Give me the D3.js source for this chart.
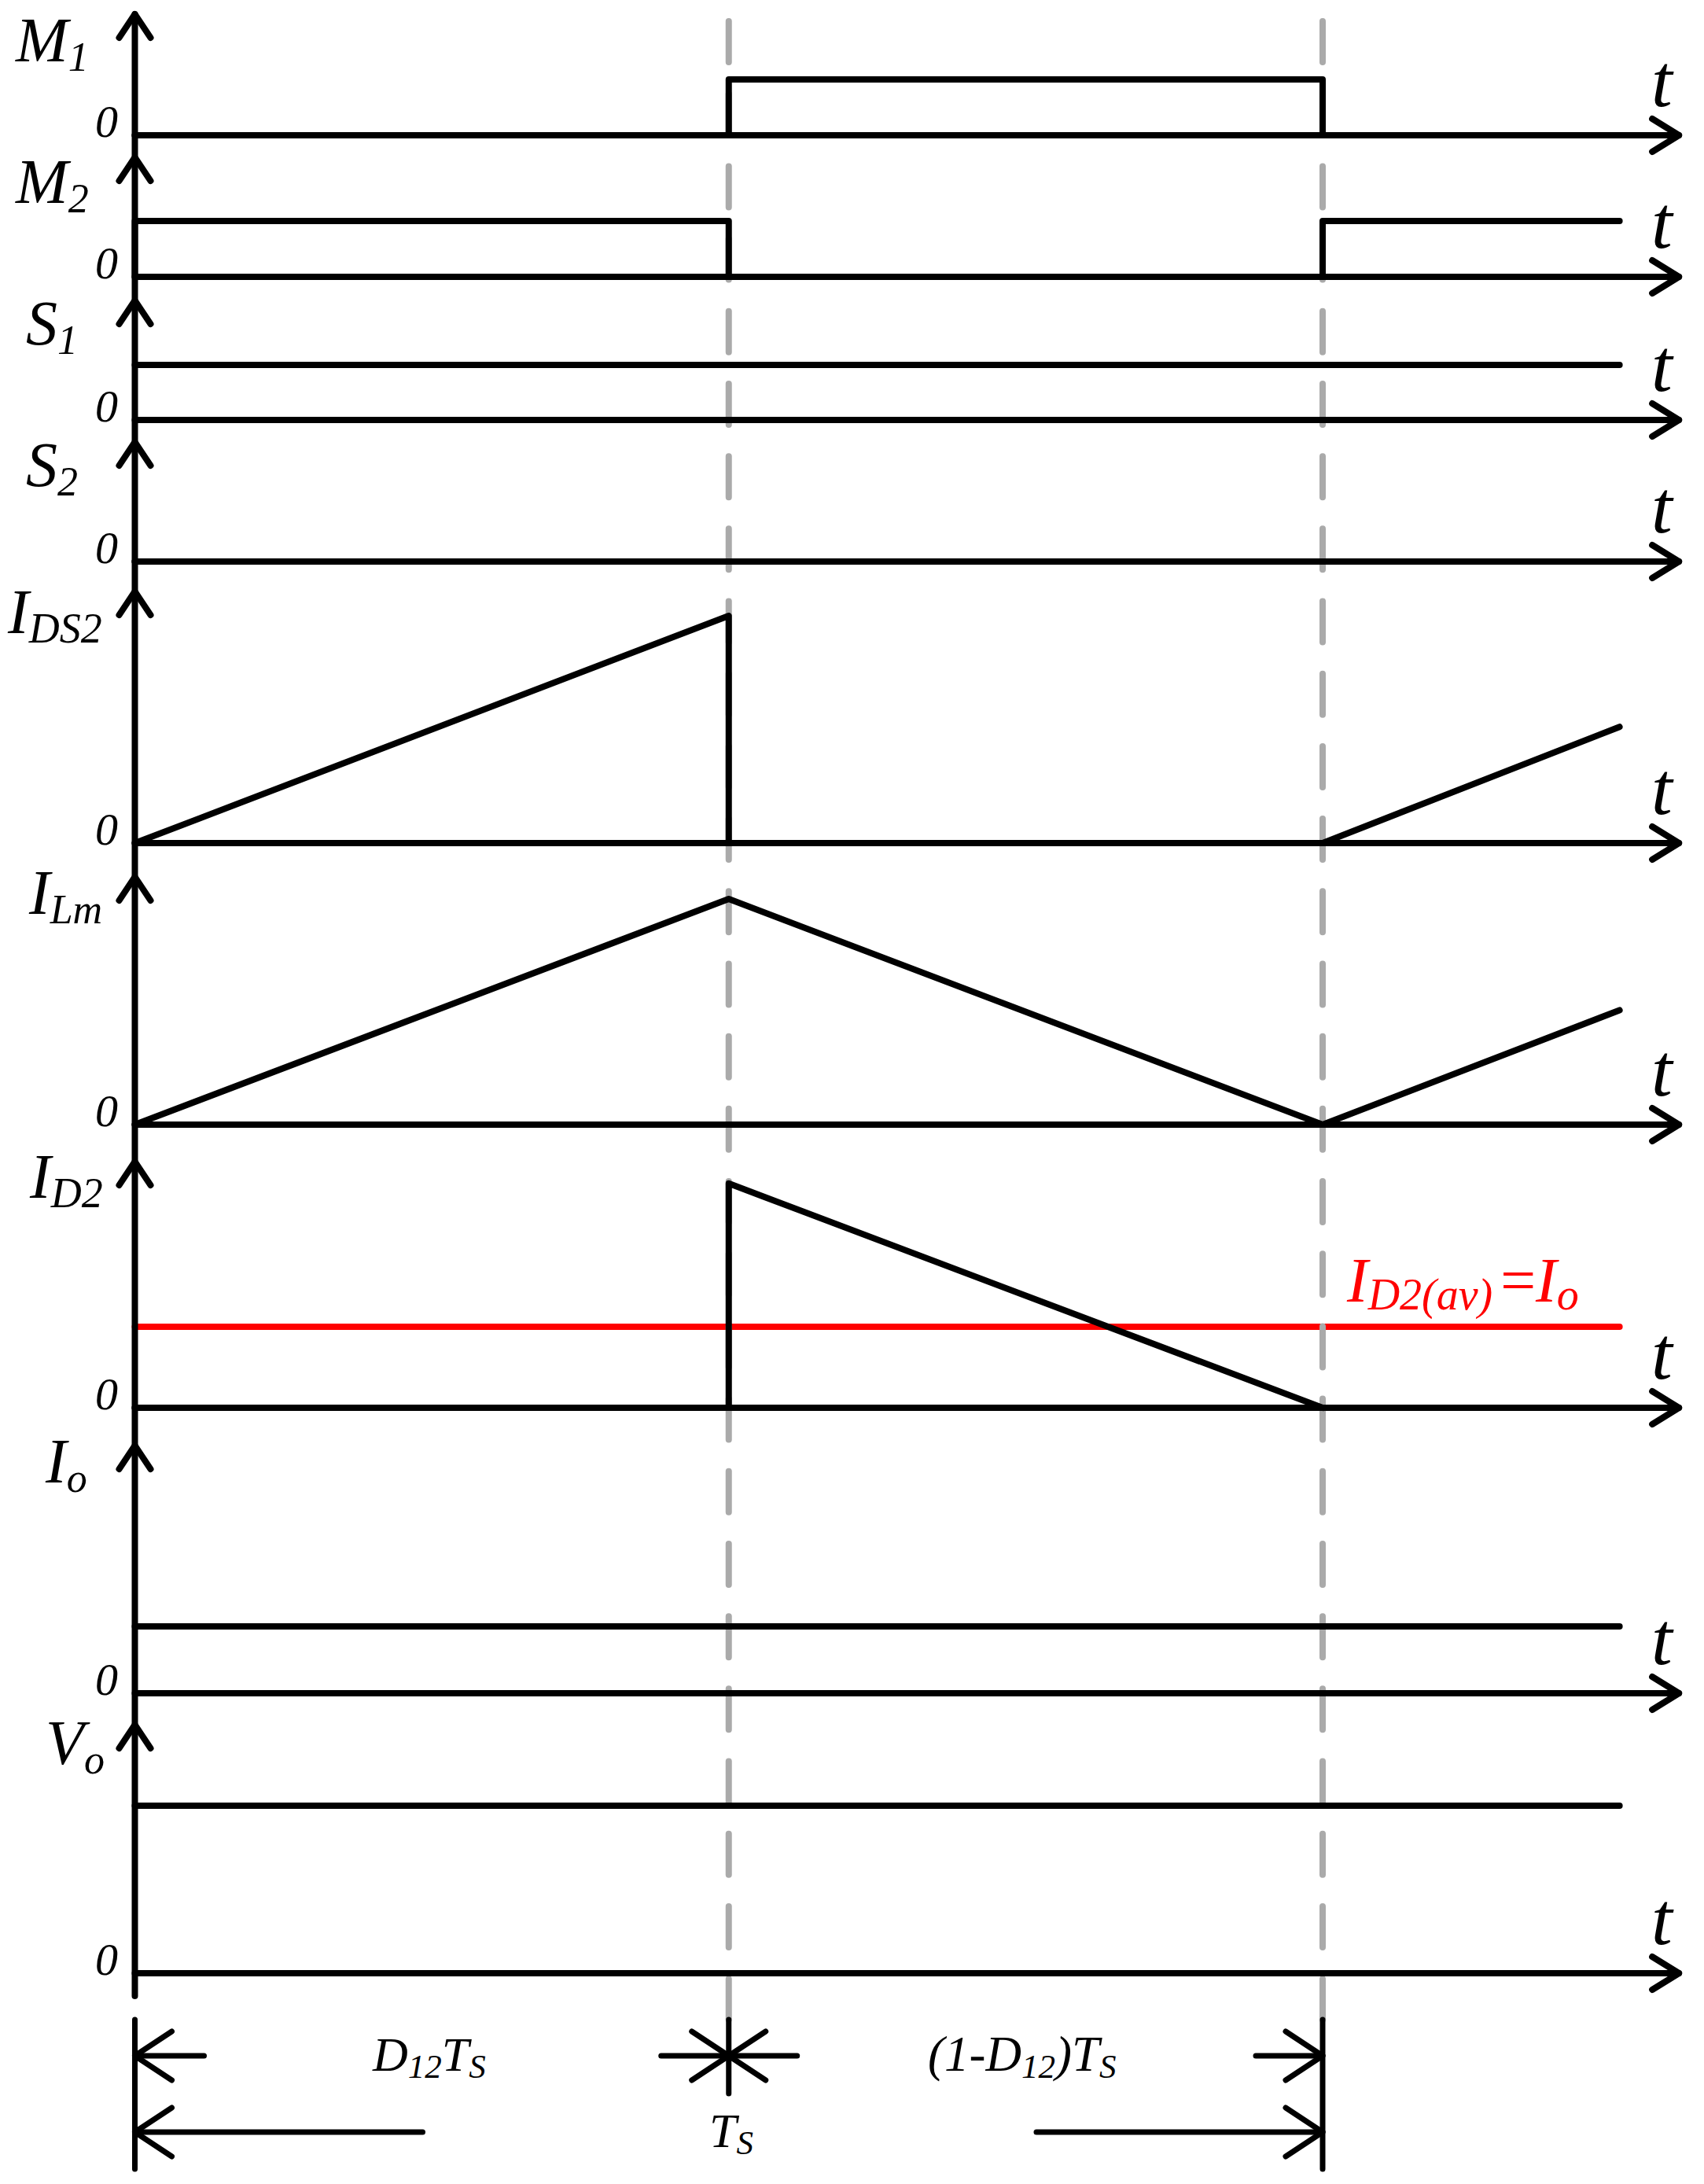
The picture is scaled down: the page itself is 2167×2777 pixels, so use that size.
<!DOCTYPE html>
<html><head><meta charset="utf-8">
<script src="https://cdn.jsdelivr.net/npm/d3@7"></script>
<style>
body{margin:0;background:#fff}
svg{display:block;background:#fff}
text{font-family:"Liberation Serif","Times New Roman",Times,serif;font-style:italic}
</style>
</head><body>
<svg id="chart" width="2167" height="2777"></svg>
<script>
// ================= DATA =================
// time in units of the switching period Ts
const D12 = 0.5;
const tEnd = 1.25;
const periodMarks = [0, D12, 1];

const panelNames = ["M1", "M2", "S1", "S2", "IDS2", "ILm", "ID2", "Io", "Vo"];
const labelMain  = ["M", "M", "S", "S", "I", "I", "I", "I", "V"];
const labelSub   = ["1", "2", "1", "2", "DS2", "Lm", "D2", "o", "o"];
const zeroText = "0";
const timeText = "t";

// values normalised to each panel's axis height
const m1Time   = [0, 0.5, 0.5, 1, 1, 1.25];
const m1Value  = [0, 0, 0.461, 0.461, 0, 0];
const m2Time   = [0, 0, 0.5, 0.5, 1, 1, 1.25];
const m2Value  = [0, 0.467, 0.467, 0, 0, 0.467, 0.467];
const s1Time   = [0, 1.25];
const s1Value  = [0.461, 0.461];
const s2Time   = [0, 1.25];
const s2Value  = [0, 0];
const ids2Time = [0, 0.5, 0.5, 1, 1.25];
const ids2Value= [0, 0.903, 0, 0, 0.462];
const ilmTime  = [0, 0.5, 1, 1.25];
const ilmValue = [0, 0.911, 0, 0.462];
const id2Time  = [0, 0.5, 0.5, 1];
const id2Value = [0, 0, 0.911, 0];
const id2AvgTime  = [0, 1.25];
const id2AvgValue = [0.329, 0.329];
const ioTime   = [0, 1.25];
const ioValue  = [0.27, 0.27];
const voTime   = [0, 1.25];
const voValue  = [0.674, 0.674];

const seriesTimes  = [m1Time, m2Time, s1Time, s2Time, ids2Time, ilmTime, id2Time, ioTime, voTime];
const seriesValues = [m1Value, m2Value, s1Value, s2Value, ids2Value, ilmValue, id2Value, ioValue, voValue];

const avgLabel = [{t:"I"}, {t:"D2(av)", sub:true}, {t:"="}, {t:"I"}, {t:"o", sub:true}];
const dimLabel1 = [{t:"D"}, {t:"12", sub:true}, {t:"T"}, {t:"S", sub:true}];
const dimLabel2 = [{t:"(1-D"}, {t:"12", sub:true}, {t:")T"}, {t:"S", sub:true}];
const dimLabel3 = [{t:"T"}, {t:"S", sub:true}];

// ================= LAYOUT =================
const X0 = 171.5, XTS = 1682, AXIS_END_T = 1.3;
const layout = [
  {base:172,  tip:18,   lx:20, ly:78,   sub:52},
  {base:352,  tip:200,  lx:20, ly:258,  sub:52},
  {base:534,  tip:382,  lx:33, ly:438,  sub:52},
  {base:714,  tip:562,  lx:33, ly:618,  sub:52},
  {base:1072, tip:752,  lx:10, ly:805,  sub:54},
  {base:1430, tip:1115, lx:37, ly:1162, sub:52},
  {base:1790, tip:1477, lx:38, ly:1523, sub:54},
  {base:2153, tip:1838, lx:58, ly:1885, sub:52},
  {base:2509, tip:2193, lx:58, ly:2243, sub:52}
];
const AXIS_BOTTOM = 2538;
const SW = 8;

const svg = d3.select("#chart");
const x = d3.scaleLinear().domain([0, 1]).range([X0, XTS]);
const yScales = layout.map(p => d3.scaleLinear().domain([0, 1]).range([p.base, p.tip]));

function rich(sel, px, py, parts, size, subSize, off, color) {
  const t = sel.append("text").attr("x", px).attr("y", py)
    .attr("fill", color || "#000");
  let shift = 0;
  parts.forEach(p => {
    const target = p.sub ? off : 0;
    const ts = t.append("tspan").attr("font-size", p.sub ? subSize : size)
      .attr("dy", target - shift).text(p.t);
    if (p.x != null) ts.attr("x", p.x);
    shift = target;
  });
  return t;
}

const gRed = svg.append("g");
const gGray = svg.append("g");
const gBlack = svg.append("g");
const gText = svg.append("g");

// red average line for ID2
const line6 = d3.line().x((d,i) => x(id2AvgTime[i])).y(d => yScales[6](d));
gRed.append("path").attr("d", line6(id2AvgValue))
  .attr("fill","none").attr("stroke","#ff0000").attr("stroke-width",SW).attr("stroke-linecap","round");

// gray dashed period marks
[D12, 1].forEach(tm => {
  gGray.append("line").attr("x1", x(tm)).attr("x2", x(tm)).attr("y1", 27).attr("y2", 2568)
    .attr("stroke", "#aaaaaa").attr("stroke-width", SW).attr("stroke-linecap", "round")
    .attr("stroke-dasharray", "52 40.19");
});

// vertical axis
gBlack.append("line").attr("x1", X0).attr("x2", X0).attr("y1", layout[0].tip).attr("y2", AXIS_BOTTOM)
  .attr("stroke", "#000").attr("stroke-width", SW).attr("stroke-linecap", "round");

const stroke = s => s.attr("fill","none").attr("stroke","#000").attr("stroke-width",SW)
  .attr("stroke-linecap","round").attr("stroke-linejoin","round");

layout.forEach((p, k) => {
  const ys = yScales[k];
  // y arrowhead
  stroke(gBlack.append("path").attr("d",
    `M${X0-20},${p.tip+30}L${X0},${p.tip}L${X0+20},${p.tip+30}`));
  // time axis with arrow
  const xe = x(AXIS_END_T);
  stroke(gBlack.append("path").attr("d", `M${X0},${ys(0)}L${xe},${ys(0)}`));
  stroke(gBlack.append("path").attr("d", `M${xe-34},${ys(0)-21}L${xe},${ys(0)}L${xe-34},${ys(0)+21}`));
  // waveform
  const tt = seriesTimes[k];
  const ln = d3.line().x((d,i) => x(tt[i])).y(d => ys(d));
  stroke(gBlack.append("path").attr("d", ln(seriesValues[k])));
  // labels
  rich(gText, p.lx, p.ly, [{t:labelMain[k]}, {t:labelSub[k], sub:true}], 80, p.sub, 12);
  gText.append("text").attr("x", 150).attr("y", ys(0) + 2).attr("text-anchor", "end")
    .attr("font-size", 58).text(zeroText);
  gText.append("text").attr("x", 2100).attr("y", ys(0) - 37)
    .attr("font-size", 96).text(timeText);
});

// red label
rich(gText, 1713, 1655, [avgLabel[0], avgLabel[1], {t:"=", x:1903}, {t:"I", x:1953}, avgLabel[4]], 80, 56, 10, "#ff0000");

// ================= DIMENSIONS =================
const DW = 7;
const dstroke = s => s.attr("fill","none").attr("stroke","#000").attr("stroke-width",DW)
  .attr("stroke-linecap","round").attr("stroke-linejoin","round");
const xa = x(periodMarks[0]), xb = x(periodMarks[1]), xc = x(periodMarks[2]);
const r1 = 2614, r2 = 2711, AH = 47, AV = 31;
// vertical extension lines
dstroke(gBlack.append("line").attr("x1", xa).attr("x2", xa).attr("y1", 2568).attr("y2", 2758));
dstroke(gBlack.append("line").attr("x1", xb).attr("x2", xb).attr("y1", 2568).attr("y2", 2662));
dstroke(gBlack.append("line").attr("x1", xc).attr("x2", xc).attr("y1", 2568).attr("y2", 2758));
function arrowL(xt, y, len) {
  dstroke(gBlack.append("path").attr("d", `M${xt},${y}L${xt+len},${y}`));
  dstroke(gBlack.append("path").attr("d", `M${xt+AH},${y-AV}L${xt},${y}L${xt+AH},${y+AV}`));
}
function arrowR(xt, y, len) {
  dstroke(gBlack.append("path").attr("d", `M${xt},${y}L${xt-len},${y}`));
  dstroke(gBlack.append("path").attr("d", `M${xt-AH},${y-AV}L${xt},${y}L${xt-AH},${y+AV}`));
}
arrowL(xa, r1, 88);
arrowR(xb, r1, 86);
arrowL(xb, r1, 87);
arrowR(xc, r1, 85);
arrowL(xa, r2, 366);
arrowR(xc, r2, 364);

rich(gText, 474, 2633, dimLabel1, 62, 43, 9);
rich(gText, 1180, 2633, dimLabel2, 63, 43, 9);
rich(gText, 902, 2730, dimLabel3, 62, 43, 9);
</script>
</body></html>
